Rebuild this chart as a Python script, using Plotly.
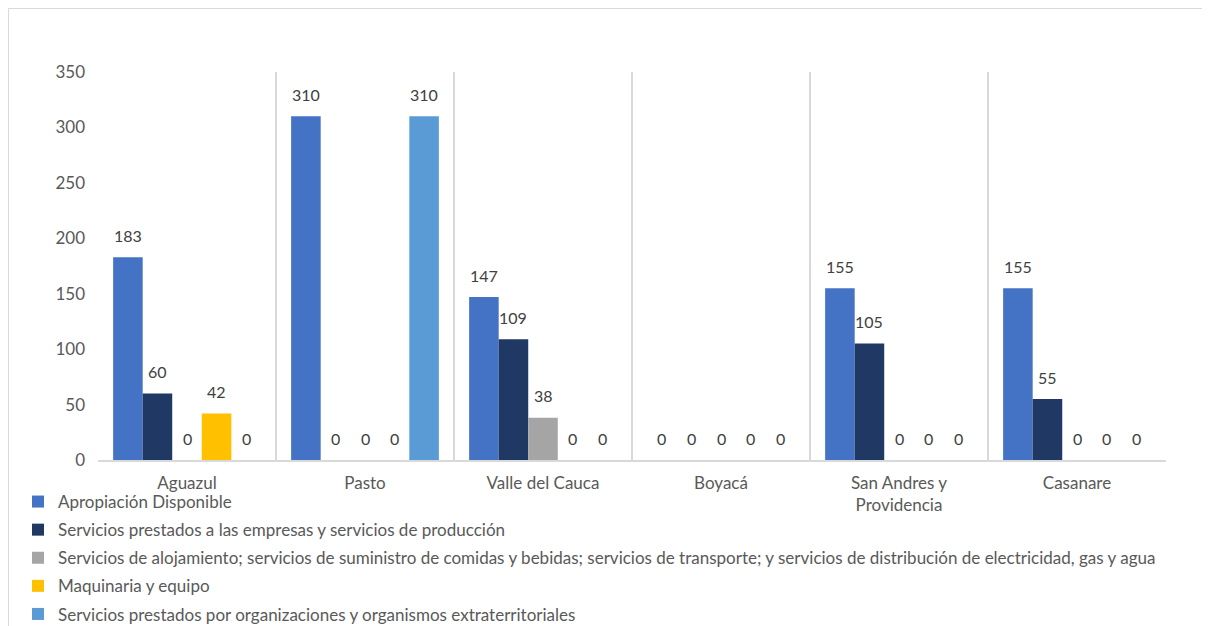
import plotly.graph_objects as go

categories = ["Aguazul", "Pasto", "Valle del Cauca", "Boyacá", "San Andres y<br>Providencia", "Casanare"]

series_names = [
    "Apropiación Disponible",
    "Servicios prestados a las empresas y servicios de producción",
    "Servicios de alojamiento; servicios de suministro de comidas y bebidas; servicios de transporte; y servicios de distribución de electricidad, gas y agua",
    "Maquinaria y equipo",
    "Servicios prestados por organizaciones y organismos extraterritoriales",
]
apropiacion = [183, 310, 147, 0, 155, 155]
servicios_empresas = [60, 0, 109, 0, 105, 55]
servicios_alojamiento = [0, 0, 38, 0, 0, 0]
maquinaria = [42, 0, 0, 0, 0, 0]
servicios_org = [0, 310, 0, 0, 0, 0]
series_values = [apropiacion, servicios_empresas, servicios_alojamiento, maquinaria, servicios_org]
colors = ["#4472C4", "#203864", "#A5A5A5", "#FFC000", "#5B9BD5"]

FONT = "Lato"

# figure pixel geometry (page body has an 8px margin)
FW, FH = 1202, 618
L, R, T, B = 90, 1158, 64, 452
W, H = R - L, B - T
BARGAP = 0.17
n_series = len(series_values)
bar_px = (W / len(categories)) * (1 - BARGAP) / n_series

def px_x(p):
    return (p - L) / W

def px_y(p):
    return (B - p) / H

fig = go.Figure()
annotations = []
for i, (name, vals, c) in enumerate(zip(series_names, series_values, colors)):
    fig.add_trace(go.Bar(
        x=categories, y=vals, name=name, marker=dict(color=c, line=dict(width=0)),
        legendgroup=f"g{i}",
    ))
    for cat, v in zip(categories, vals):
        annotations.append(dict(
            x=cat, y=v, xref="x", yref="y", text=str(v), showarrow=False,
            xanchor="center", yanchor="middle", yshift=22,
            xshift=(i - (n_series - 1) / 2) * bar_px,
            font=dict(family=FONT, size=16, color="#404040"),
        ))

fig.update_layout(
    width=FW, height=FH,
    margin=dict(l=L, r=FW - R, t=T, b=FH - B, autoexpand=False),
    paper_bgcolor="white", plot_bgcolor="white",
    barmode="group", bargap=BARGAP, bargroupgap=0,
    font=dict(family=FONT, size=17, color="#595959"),
    showlegend=True,
    legend=dict(
        orientation="v", xref="container", yref="container",
        x=10 / FW, y=1 - 476 / FH, xanchor="left", yanchor="top",
        font=dict(family=FONT, size=17, color="#595959"),
        tracegroupgap=3, itemwidth=30, bgcolor="rgba(0,0,0,0)",
    ),
    xaxis=dict(
        showgrid=True, gridcolor="#D9D9D9", gridwidth=1.5,
        tickson="boundaries", ticks="", showline=True, linecolor="#D9D9D9", linewidth=1.5,
        tickfont=dict(family=FONT, size=17, color="#595959"),
        ticklabelstandoff=7,
    ),
    yaxis=dict(
        range=[0, 350], dtick=50, showgrid=False, zeroline=False, showline=False,
        ticks="", tickfont=dict(family=FONT, size=17, color="#595959"),
        ticklabelstandoff=12,
    ),
    annotations=annotations,
    shapes=[dict(
        type="rect", xref="paper", yref="paper",
        x0=px_x(0.5), x1=px_x(FW + 10), y0=px_y(FH + 10), y1=px_y(0.5),
        line=dict(color="#D9D9D9", width=1), fillcolor="rgba(0,0,0,0)", layer="below",
    )],
)

fig.write_html("out.html")
